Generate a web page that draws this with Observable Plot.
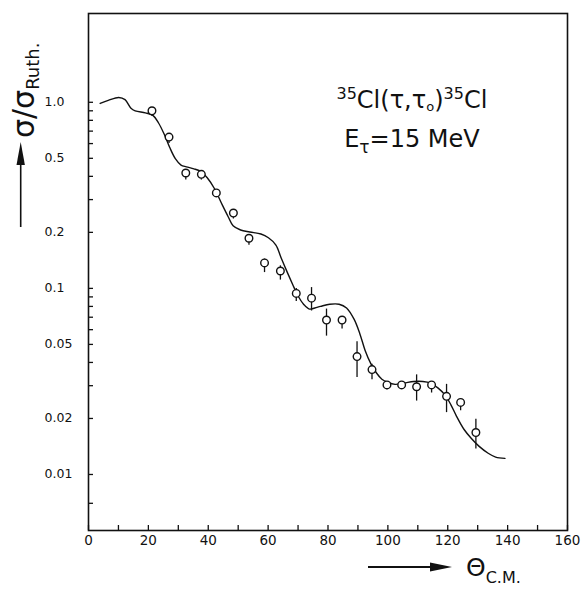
<!DOCTYPE html>
<html>
<head>
<meta charset="utf-8">
<script src="https://cdn.jsdelivr.net/npm/d3@7"></script>
<script src="https://cdn.jsdelivr.net/npm/@observablehq/plot@0.6"></script>
<style>
  html, body { margin: 0; padding: 0; background: #fff; }
  svg { display: block; }
</style>
</head>
<body>
<div id="chart"></div>
<script>
// Measured cross sections (ratio to Rutherford) vs centre-of-mass angle
const theta = [21.2, 26.9, 32.5, 37.7, 42.7, 48.4, 53.6, 58.8, 64.1, 69.4, 74.5, 79.5, 84.7, 89.7, 94.7, 99.7, 104.6, 109.6, 114.6, 119.6, 124.3, 129.4];
const ratio = [0.90, 0.65, 0.417, 0.41, 0.326, 0.254, 0.186, 0.137, 0.124, 0.094, 0.0886, 0.0676, 0.0676, 0.043, 0.0366, 0.0303, 0.0303, 0.0296, 0.0303, 0.0263, 0.0244, 0.0168];
const errLo = [0.842, 0.600, 0.382, 0.382, 0.313, 0.236, 0.1707, 0.1216, 0.1108, 0.0850, 0.0756, 0.0554, 0.0605, 0.0332, 0.0323, 0.0285, 0.0293, 0.0248, 0.0274, 0.0215, 0.0220, 0.0137];
const errHi = [0.933, 0.673, 0.433, 0.423, 0.335, 0.263, 0.1936, 0.1438, 0.1322, 0.100, 0.101, 0.0774, 0.0699, 0.0516, 0.0391, 0.031, 0.031, 0.0343, 0.0313, 0.0305, 0.0254, 0.0198];

// Optical-model fit curve
const fitTheta = [3.9, 6.6, 10.1, 12.2, 14.1, 15.6, 19.0, 21.5, 23.4, 25.3, 27.1, 29.0, 30.9, 32.7, 35.2, 37.7, 39.6, 42.1, 44.5, 46.7, 48.3, 50.8, 53.9, 57.6, 60.1, 62.6, 64.4, 66.3, 68.2, 70.0, 71.9, 73.8, 75.6, 77.5, 80.6, 83.7, 86.2, 88.7, 90.6, 92.4, 94.3, 96.2, 98.0, 99.9, 102.4, 105.5, 108.6, 111.7, 114.2, 116.7, 119.2, 121.1, 122.9, 125.4, 127.9, 130.4, 133.5, 136.0, 139.1];
const fitRatio = [0.986, 1.023, 1.062, 1.033, 0.933, 0.899, 0.878, 0.850, 0.774, 0.673, 0.573, 0.498, 0.460, 0.450, 0.439, 0.423, 0.394, 0.343, 0.285, 0.242, 0.217, 0.206, 0.201, 0.196, 0.187, 0.171, 0.145, 0.123, 0.105, 0.091, 0.082, 0.0774, 0.0785, 0.080, 0.0822, 0.0822, 0.0785, 0.0683, 0.0573, 0.0464, 0.0394, 0.0351, 0.0325, 0.0313, 0.0305, 0.031, 0.0316, 0.0316, 0.031, 0.0292, 0.0266, 0.0236, 0.0206, 0.0175, 0.0156, 0.0142, 0.0130, 0.0124, 0.0122];

// Axis ticks
const xTicks = [0, 10, 20, 30, 40, 50, 60, 70, 80, 90, 100, 110, 120, 130, 140, 150, 160];
const xLabels = [0, 20, 40, 60, 80, 100, 120, 140, 160];
const yTicks = [1, 0.9, 0.8, 0.7, 0.6, 0.5, 0.4, 0.3, 0.2, 0.1, 0.09, 0.08, 0.07, 0.06, 0.05, 0.04, 0.03, 0.02, 0.01, 0.007];
const yLabels = [1, 0.5, 0.2, 0.1, 0.05, 0.02, 0.01];
const yLabelText = ["1.0", "0.5", "0.2", "0.1", "0.05", "0.02", "0.01"];

const points = theta.map((t, i) => ({t, v: ratio[i], lo: errLo[i], hi: errHi[i]}));
const fit = fitTheta.map((t, i) => ({t, v: fitRatio[i]}));
const yLab = yLabels.map((v, i) => ({v, s: yLabelText[i]}));

const FONT = "DejaVu Sans, sans-serif";

const plot = Plot.plot({
  width: 583,
  height: 594,
  marginLeft: 88,
  marginRight: 16,
  marginTop: 13,
  marginBottom: 64,
  style: {fontFamily: FONT, background: "#fff", color: "#111"},
  x: {domain: [0, 160], axis: null},
  y: {type: "log", domain: [0.005, 3], axis: null},
  marks: [
    Plot.axisX({ticks: xTicks, tickSize: 5, tickFormat: () => "", label: null, strokeWidth: 1.3}),
    Plot.axisY({ticks: yTicks, tickSize: 5, tickFormat: () => "", label: null, strokeWidth: 1.3}),
    Plot.text(xLabels, {x: d => d, frameAnchor: "bottom", dy: 14, fontSize: 13.5, fill: "#111", text: d => String(d)}),
    Plot.text(yLab, {y: "v", text: "s", frameAnchor: "left", dx: -44, textAnchor: "start", fontSize: 12.5, fill: "#111"}),
    Plot.frame({stroke: "#111", strokeWidth: 1.6}),
    Plot.line(fit, {x: "t", y: "v", curve: "catmull-rom", stroke: "#111", strokeWidth: 1.4}),
    Plot.ruleX(points, {x: "t", y1: "lo", y2: "hi", stroke: "#111", strokeWidth: 1.3}),
    Plot.dot(points, {x: "t", y: "v", r: 3.8, stroke: "#111", strokeWidth: 1.4, fill: "#fff"})
  ]
});

document.getElementById("chart").appendChild(plot);

const svg = d3.select(plot);

// Turn axis ticks inward (the original draws them inside the frame)
svg.selectAll('[aria-label="x-axis tick"] path, [aria-label="y-axis tick"] path').each(function () {
  const el = d3.select(this);
  const d = el.attr("d");
  if (d) el.attr("d", d.replace(/-?\d+(\.\d+)?(e-?\d+)?/g, m => String(-parseFloat(m))));
});

// Annotations with super/subscripts
const sx = plot.scale("x"), sy = plot.scale("y");
const cx = sx.apply(108.2);

const t1 = svg.append("text")
  .attr("x", cx).attr("y", sy.apply(0.93))
  .attr("text-anchor", "middle").attr("font-family", FONT).attr("font-size", 24).attr("fill", "#111");
t1.append("tspan").attr("font-size", 16).attr("dy", -9).text("35");
t1.append("tspan").attr("dy", 9).text("Cl(τ,τ");
t1.append("tspan").attr("font-size", 13).attr("dy", 3).text("o");
t1.append("tspan").attr("dy", -3).text(")");
t1.append("tspan").attr("font-size", 16).attr("dy", -9).text("35");
t1.append("tspan").attr("dy", 9).text("Cl");

const t2 = svg.append("text")
  .attr("x", cx).attr("y", sy.apply(0.572))
  .attr("text-anchor", "middle").attr("font-family", FONT).attr("font-size", 24).attr("fill", "#111");
t2.append("tspan").text("E");
t2.append("tspan").attr("font-size", 17).attr("dy", 6).text("τ");
t2.append("tspan").attr("dy", -6).text("=15 MeV");

// Y axis title with upward arrow
const yt = svg.append("text")
  .attr("transform", "translate(34,138) rotate(-90)")
  .attr("text-anchor", "start").attr("font-family", FONT).attr("font-size", 30).attr("fill", "#111");
yt.append("tspan").text("σ/σ");
yt.append("tspan").attr("font-size", 18).attr("dy", 5).text("Ruth.");

svg.append("line").attr("x1", 20.7).attr("x2", 20.7).attr("y1", 227).attr("y2", 160)
  .attr("stroke", "#111").attr("stroke-width", 1.6);
svg.append("path").attr("d", "M20.7,142 L16.5,165 L24.9,165 Z").attr("fill", "#111");

// X axis title with rightward arrow
svg.append("line").attr("x1", 368).attr("x2", 435).attr("y1", 567).attr("y2", 567)
  .attr("stroke", "#111").attr("stroke-width", 2);
svg.append("path").attr("d", "M452,567 L430,562.5 L430,571.5 Z").attr("fill", "#111");
const xt = svg.append("text")
  .attr("x", 466).attr("y", 576)
  .attr("text-anchor", "start").attr("font-family", FONT).attr("font-size", 25).attr("fill", "#111");
xt.append("tspan").text("Θ");
xt.append("tspan").attr("font-size", 16).attr("dy", 7).text("C.M.");
</script>
</body>
</html>
